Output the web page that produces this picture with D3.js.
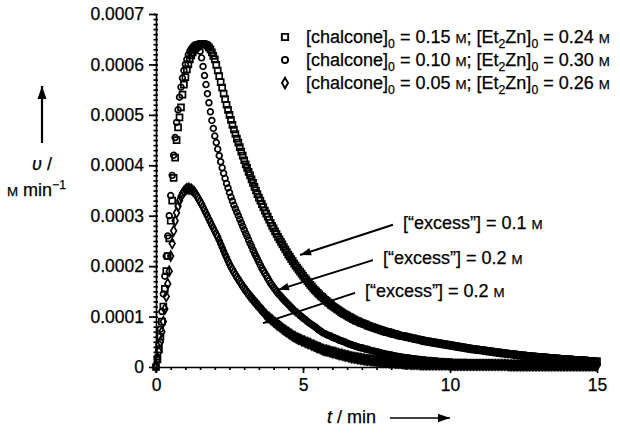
<!DOCTYPE html>
<html>
<head>
<meta charset="utf-8">
<script src="https://cdn.jsdelivr.net/npm/d3@7"></script>
<style>
  html, body { margin: 0; padding: 0; background: #fff; }
  svg { display: block; }
  text { font-family: "Liberation Sans", Arial, Helvetica, sans-serif; fill: #000; stroke: #000; stroke-width: 0.25px; }
</style>
</head>
<body>
<div id="chart"></div>
<script>
// Rates in units of 1e-5 M/min, one sample every 0.05 min from t = 0 to t = 15 (rows = 1 min)
const sampleStep = 0.05;
const rateUnit = 1e-5;

const squareRates = [
  0,1.5,3.5,6,9,12,15.5,19,22,25.5,29,33,37.5,41.5,45,47.5,49.5,51.5,54,56,
  57.5,59,60,61,61.8,62.4,62.9,63.3,63.6,63.8,64,64.1,64.1,64,63.9,63.7,63.4,63,62.4,61.7,
  61,59.9,58.8,57.7,56.5,55.4,54.2,53.1,52,51,50,49,48,47.1,46.2,45.3,44.5,43.6,42.7,41.9,
  41,40.2,39.5,38.7,38,37.2,36.5,35.7,35,34.3,33.6,33,32.3,31.7,31,30.4,29.8,29.2,28.6,28,
  27.5,26.9,26.4,25.8,25.3,24.8,24.3,23.8,23.3,22.8,22.3,21.9,21.4,21,20.5,20.1,19.7,19.3,18.9,18.5,
  18.1,17.7,17.4,17,16.7,16.3,16,15.6,15.3,15,14.7,14.4,14.1,13.9,13.6,13.3,13.1,12.8,12.6,12.3,
  12.1,11.9,11.7,11.5,11.3,11.1,10.9,10.7,10.5,10.4,10.2,10,9.9,9.7,9.5,9.4,9.2,9.1,9,8.8,
  8.7,8.6,8.5,8.4,8.2,8.1,8,7.9,7.8,7.7,7.6,7.5,7.4,7.3,7.2,7.1,7,6.9,6.9,6.8,
  6.7,6.6,6.5,6.5,6.4,6.3,6.2,6.2,6.1,6.1,6,5.9,5.9,5.8,5.7,5.7,5.6,5.5,5.5,5.4,
  5.4,5.3,5.2,5.2,5.1,5.1,5,5,4.9,4.9,4.8,4.8,4.7,4.7,4.6,4.6,4.5,4.5,4.4,4.4,
  4.3,4.3,4.2,4.2,4.1,4.1,4,4,3.9,3.9,3.8,3.8,3.7,3.7,3.6,3.6,3.5,3.5,3.5,3.4,
  3.4,3.4,3.3,3.3,3.2,3.2,3.1,3.1,3.1,3,3,2.9,2.9,2.9,2.8,2.8,2.7,2.7,2.7,2.6,
  2.6,2.6,2.5,2.5,2.5,2.4,2.4,2.4,2.3,2.3,2.3,2.2,2.2,2.2,2.1,2.1,2.1,2.1,2,2,
  2,2,1.9,1.9,1.9,1.9,1.8,1.8,1.8,1.8,1.7,1.7,1.7,1.7,1.6,1.6,1.6,1.6,1.5,1.5,
  1.5,1.5,1.5,1.4,1.4,1.4,1.4,1.4,1.3,1.3,1.3,1.3,1.3,1.2,1.2,1.2,1.2,1.2,1.1,1.1,
  1.1
];

const circleRates = [
  0,2,4.5,7.5,11,14.5,18,22,26,30,34,38,42,45.5,48.5,51,53.5,55.5,57.3,58.8,
  60,61,61.9,62.6,63.1,63.5,63.8,63.9,63.8,63.4,62.6,61.3,59.6,57.8,56,54.2,52.4,50.6,48.9,47.3,
  45.8,44.5,43.2,41.9,40.7,39.5,38.4,37.4,36.4,35.5,34.6,33.7,32.9,32.1,31.4,30.7,30,29.3,28.6,27.9,
  27.2,26.5,25.9,25.2,24.5,23.9,23.2,22.6,22,21.4,20.8,20.2,19.6,19.1,18.6,18.1,17.6,17.1,16.6,16.2,
  15.8,15.4,15,14.6,14.3,14,13.6,13.3,13,12.7,12.4,12.1,11.8,11.5,11.2,11,10.7,10.5,10.2,10,
  9.7,9.5,9.3,9,8.8,8.6,8.4,8.2,8,7.8,7.5,7.3,7.1,6.9,6.7,6.6,6.4,6.3,6.2,6.1,
  5.9,5.8,5.7,5.6,5.4,5.3,5.2,5.1,5,4.9,4.7,4.6,4.5,4.4,4.3,4.2,4.1,4,3.9,3.8,
  3.8,3.7,3.6,3.5,3.5,3.4,3.3,3.2,3.2,3.1,3,3,2.9,2.8,2.7,2.7,2.6,2.5,2.5,2.4,
  2.4,2.3,2.2,2.2,2.1,2.1,2,2,1.9,1.9,1.8,1.8,1.8,1.7,1.7,1.6,1.6,1.6,1.5,1.5,
  1.5,1.4,1.4,1.4,1.3,1.3,1.3,1.3,1.2,1.2,1.2,1.2,1.1,1.1,1.1,1.1,1,1,1,1,
  1,1,0.9,0.9,0.9,0.9,0.9,0.9,0.9,0.9,0.9,0.9,0.8,0.8,0.8,0.8,0.8,0.8,0.8,0.8,
  0.8,0.8,0.8,0.8,0.8,0.8,0.8,0.8,0.8,0.8,0.7,0.7,0.7,0.7,0.7,0.7,0.7,0.7,0.7,0.7,
  0.7,0.7,0.7,0.7,0.7,0.7,0.7,0.7,0.7,0.7,0.7,0.7,0.7,0.7,0.7,0.7,0.7,0.7,0.7,0.7,
  0.6,0.6,0.6,0.6,0.6,0.6,0.6,0.6,0.6,0.6,0.6,0.6,0.6,0.6,0.6,0.6,0.6,0.6,0.6,0.6,
  0.6,0.6,0.6,0.6,0.6,0.6,0.6,0.6,0.6,0.6,0.5,0.5,0.5,0.5,0.5,0.5,0.5,0.5,0.5,0.5,
  0.5
];

const diamondRates = [
  0,1.5,3,5,7,9,11.5,14,16.5,19,22,24.5,27,29,30.6,31.9,33,33.8,34.4,34.8,
  35.1,35.3,35.4,35.3,35.2,35,34.7,34.3,33.8,33.3,32.8,32.3,31.7,31.1,30.5,29.9,29.3,28.7,28.1,27.5,
  26.9,26.3,25.8,25.1,24.4,23.7,23,22.3,21.7,21,20.4,19.8,19.3,18.8,18.3,17.8,17.4,16.9,16.5,16,
  15.6,15.2,14.8,14.4,14,13.7,13.3,13,12.6,12.3,12,11.6,11.3,11,10.6,10.3,10,9.8,9.5,9.3,
  9,8.8,8.5,8.3,8.1,7.9,7.6,7.4,7.2,7,6.8,6.6,6.4,6.2,6,5.9,5.7,5.6,5.5,5.3,
  5.2,5.1,4.9,4.8,4.7,4.6,4.4,4.3,4.2,4,3.9,3.8,3.7,3.5,3.4,3.3,3.3,3.2,3.1,3,
  2.9,2.9,2.8,2.7,2.6,2.5,2.5,2.4,2.3,2.2,2.2,2.1,2,1.9,1.9,1.8,1.8,1.7,1.7,1.6,
  1.6,1.5,1.5,1.4,1.4,1.4,1.3,1.3,1.3,1.2,1.2,1.2,1.1,1.1,1.1,1,1,1,1,0.9,
  0.9,0.9,0.9,0.8,0.8,0.8,0.8,0.8,0.7,0.7,0.7,0.7,0.7,0.6,0.6,0.6,0.6,0.6,0.6,0.6,
  0.5,0.5,0.5,0.5,0.5,0.5,0.5,0.5,0.5,0.5,0.5,0.5,0.5,0.5,0.5,0.5,0.5,0.5,0.5,0.5,
  0.4,0.4,0.4,0.4,0.4,0.4,0.4,0.4,0.4,0.4,0.4,0.4,0.4,0.4,0.4,0.4,0.4,0.4,0.4,0.4,
  0.4,0.4,0.4,0.4,0.4,0.4,0.4,0.4,0.4,0.4,0.4,0.4,0.4,0.4,0.4,0.4,0.4,0.4,0.4,0.4,
  0.3,0.3,0.3,0.3,0.3,0.3,0.3,0.3,0.3,0.3,0.3,0.3,0.3,0.3,0.3,0.3,0.3,0.3,0.3,0.3,
  0.3,0.3,0.3,0.3,0.3,0.3,0.3,0.3,0.3,0.3,0.3,0.3,0.3,0.3,0.3,0.3,0.3,0.3,0.3,0.3,
  0.3,0.3,0.3,0.3,0.3,0.3,0.3,0.3,0.3,0.3,0.3,0.3,0.3,0.3,0.3,0.3,0.3,0.3,0.3,0.3,
  0.3
];

// legend / annotation text values
const chalconeConc = ["0.15", "0.10", "0.05"];
const et2znConc = ["0.24", "0.30", "0.26"];
const excessConc = ["0.1", "0.2", "0.2"];
// annotation arrows in data units: [tail t, tail v, tip t, tip v]
const excessArrows = [
  [8.06, 0.000282, 4.90, 0.000222],
  [7.38, 0.000212, 4.15, 0.000153],
  [6.77, 0.000147, 3.64, 0.000087]
];

const yTicks = [0, 0.0001, 0.0002, 0.0003, 0.0004, 0.0005, 0.0006, 0.0007];
const xTicks = [0, 5, 10, 15];

const width = 620, height = 440;
const fontSize = 18;

const svg = d3.select('#chart').append('svg')
  .attr('width', width)
  .attr('height', height)
  .style('background', '#fff');

const x = d3.scaleLinear().domain([0, 15]).range([156, 597]);
const y = d3.scaleLinear().domain([0, 0.0007]).range([367, 14]);

// x axis: minor ticks every 0.5 min, then majors with labels
svg.append('g')
  .attr('transform', `translate(0,${y(0)})`)
  .call(d3.axisBottom(x).tickValues(d3.range(0, 15.01, 0.5)).tickSize(3).tickFormat('').tickSizeOuter(0))
  .call(g => g.select('.domain').remove());

svg.append('g')
  .attr('transform', `translate(0,${y(0)})`)
  .call(d3.axisBottom(x).tickValues(xTicks).tickSize(6).tickPadding(6).tickSizeOuter(0).tickFormat(d3.format('d')));

// y axis: minor ticks every 0.00001 crossing the axis line
svg.append('g')
  .attr('transform', `translate(${x(0)},0)`)
  .call(d3.axisLeft(y).tickValues(d3.range(0, 0.000701, 0.00001)).tickSize(2.5).tickFormat('').tickSizeOuter(0))
  .call(g => g.select('.domain').remove());
svg.append('g')
  .attr('transform', `translate(${x(0)},0)`)
  .call(d3.axisRight(y).tickValues(d3.range(0, 0.000701, 0.00001)).tickSize(2).tickFormat('').tickSizeOuter(0))
  .call(g => g.select('.domain').remove());

svg.append('g')
  .attr('transform', `translate(${x(0)},0)`)
  .call(d3.axisLeft(y).tickValues(yTicks).tickSize(7).tickPadding(5).tickSizeOuter(0)
    .tickFormat(d => d === 0 ? '0' : d3.format('.4f')(d)));

svg.selectAll('.tick line, .domain').attr('stroke', '#000').attr('stroke-width', 1.7);
svg.selectAll('.tick text').style('font-size', (fontSize - 0.5) + 'px').attr('fill', '#000')
  .style('font-family', '"Liberation Sans", Arial, sans-serif');

// series
const series = [
  { rates: squareRates, symbol: d3.symbolSquare, size: 36 },
  { rates: circleRates, symbol: d3.symbolCircle, size: 26 },
  { rates: diamondRates, symbol: d3.symbolDiamond, size: 28 }
];

const plot = svg.append('g');
series.forEach(s => {
  const pts = s.rates.map((r, i) => ({ t: i * sampleStep, v: r * rateUnit }));
  plot.append('g')
    .selectAll('path')
    .data(pts)
    .join('path')
    .attr('d', d3.symbol().type(s.symbol).size(s.size))
    .attr('transform', d => `translate(${x(d.t)},${y(d.v)})`)
    .attr('fill', 'none')
    .attr('stroke', '#000')
    .attr('stroke-width', 1.7);
});

// text with subscripts / small-cap M
function richText(parent, px, py, parts, size) {
  const t = parent.append('text').attr('x', px).attr('y', py).style('font-size', size + 'px');
  let shift = 0;
  parts.forEach(([str, kind]) => {
    let target = 0, fs = size;
    if (kind === 'sub') { target = size * 0.3; fs = size * 0.68; }
    if (kind === 'sup') { target = -size * 0.38; fs = size * 0.68; }
    if (kind === 'sc') { fs = size * 0.74; }
    const ts = t.append('tspan').text(str).style('font-size', fs + 'px');
    if (target - shift !== 0) ts.attr('dy', target - shift);
    if (kind === 'it') ts.style('font-style', 'italic');
    shift = target;
  });
  return t;
}

// legend
const legendSymbols = [d3.symbolSquare, d3.symbolCircle, d3.symbolDiamond];
const legendY = [37, 60, 83];
const legend = svg.append('g');
chalconeConc.forEach((c, i) => {
  legend.append('path')
    .attr('d', d3.symbol().type(legendSymbols[i]).size(series[i].size + 4))
    .attr('transform', `translate(285,${legendY[i]})`)
    .attr('fill', 'none').attr('stroke', '#000').attr('stroke-width', 1.9);
  richText(legend, 306, legendY[i] + 6, [
    ['[chalcone]'], ['0', 'sub'], [` = ${c} `], ['M', 'sc'],
    ['; [Et'], ['2', 'sub'], ['Zn]'], ['0', 'sub'], [` = ${et2znConc[i]} `], ['M', 'sc']
  ], fontSize);
});

// arrow helper with filled head
function arrow(parent, x1, y1, x2, y2, head, width) {
  parent.append('line')
    .attr('x1', x1).attr('y1', y1).attr('x2', x2).attr('y2', y2)
    .attr('stroke', '#000').attr('stroke-width', width);
  const a = Math.atan2(y2 - y1, x2 - x1);
  const hl = head, hw = head * 0.35;
  const bx = x2 - hl * Math.cos(a), by = y2 - hl * Math.sin(a);
  parent.append('path')
    .attr('d', `M${x2},${y2}L${bx + hw * Math.sin(a)},${by - hw * Math.cos(a)}L${bx - hw * Math.sin(a)},${by + hw * Math.cos(a)}Z`)
    .attr('fill', '#000');
}

// excess annotations
const notes = svg.append('g');
excessArrows.forEach((a, i) => {
  const x1 = x(a[0]), y1 = y(a[1]), x2 = x(a[2]), y2 = y(a[3]);
  arrow(notes, x1, y1, x2, y2, 11, 2);
  richText(notes, x1 + 10, y1 + 4, [
    ['[\u201Cexcess\u201D] = ' + excessConc[i] + ' '], ['M', 'sc']
  ], fontSize);
});

// axis titles
const titles = svg.append('g');
richText(titles, 327, 423, [['t', 'it'], [' / min']], fontSize);
arrow(titles, 390, 418, 450, 418, 12, 1.7);

arrow(titles, 42, 143, 42, 86, 13, 2.2);
titles.append('text').attr('x', 42).attr('y', 170).attr('text-anchor', 'middle')
  .style('font-size', fontSize + 'px')
  .html('<tspan font-style="italic">\u03C5</tspan> /');
richText(titles, 7, 196, [['M', 'sc'], [' min'], ['\u22121', 'sup']], fontSize);
</script>
</body>
</html>
